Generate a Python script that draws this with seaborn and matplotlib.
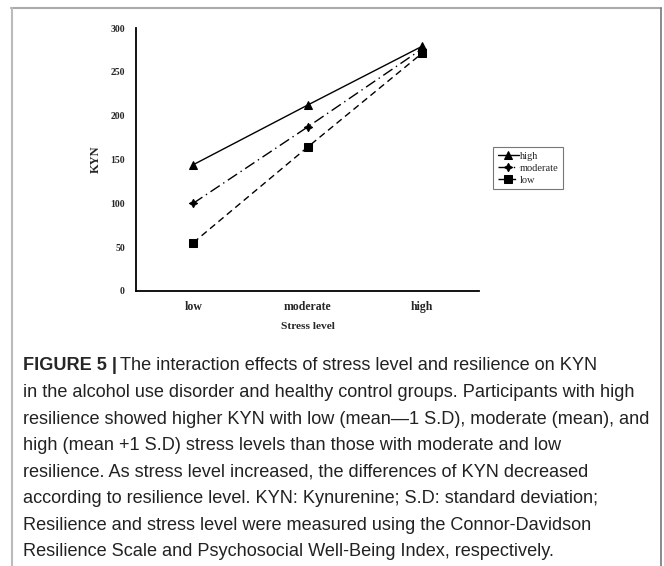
import pandas as pd
import numpy as np
import seaborn as sns
import matplotlib.pyplot as plt
from matplotlib.lines import Line2D

# values
stress_levels = ['low', 'moderate', 'high']
kyn_high = [144, 212, 279]
kyn_moderate = [100, 187, 276]
kyn_low = [55, 164, 271]
resilience = ['high', 'moderate', 'low']
y_ticks = [0, 50, 100, 150, 200, 250, 300]

caption_lines = [
    "The interaction effects of stress level and resilience on KYN",
    "in the alcohol use disorder and healthy control groups. Participants with high",
    "resilience showed higher KYN with low (mean\u20141 S.D), moderate (mean), and",
    "high (mean +1 S.D) stress levels than those with moderate and low",
    "resilience. As stress level increased, the differences of KYN decreased",
    "according to resilience level. KYN: Kynurenine; S.D: standard deviation;",
    "Resilience and stress level were measured using the Connor-Davidson",
    "Resilience Scale and Psychosocial Well-Being Index, respectively.",
]

df = pd.DataFrame({
    'Stress level': stress_levels * 3,
    'KYN': kyn_high + kyn_moderate + kyn_low,
    'resilience': np.repeat(resilience, 3),
})

sns.set_style('white')
serif = 'Liberation Serif'

fig = plt.figure(figsize=(6.64, 5.66), dpi=100, facecolor='w')
ax = fig.add_axes([136 / 664, 1 - 291 / 566, 343 / 664, 263 / 566])

ax = sns.lineplot(data=df, x='Stress level', y='KYN', hue='resilience', style='resilience',
                  hue_order=resilience, style_order=resilience,
                  palette={'high': 'black', 'moderate': 'black', 'low': 'black'},
                  markers={'high': '^', 'moderate': (4, 1, 0), 'low': 's'},
                  dashes={'high': '', 'moderate': (8, 3, 1, 3), 'low': (4.8, 3.1)},
                  markersize=6, markeredgecolor='black', linewidth=1.0, sort=False, ax=ax)

ax.set_xlim(-0.5, 2.5)
ax.set_ylim(0, 300)
ax.set_yticks(y_ticks)
sns.despine(ax=ax)
for s in ['left', 'bottom']:
    ax.spines[s].set_color('black')
    ax.spines[s].set_linewidth(1.3)
ax.tick_params(axis='both', length=0)
ax.tick_params(axis='y', pad=8)
ax.tick_params(axis='x', pad=7)
for t in ax.get_yticklabels():
    t.set_fontfamily(serif)
    t.set_fontweight('bold')
    t.set_fontsize(7)
for t in ax.get_xticklabels():
    t.set_fontfamily(serif)
    t.set_fontweight('bold')
    t.set_fontsize(8.5)
ax.set_xlabel('Stress level', fontfamily=serif, fontweight='bold', fontsize=8.2, labelpad=7)
ax.set_ylabel('KYN', fontfamily=serif, fontweight='bold', fontsize=9, labelpad=6)

sns.move_legend(ax, 'upper left', bbox_to_anchor=(493 / 664, 1 - 147 / 566), bbox_transform=fig.transFigure,
                title=None, frameon=True, fancybox=False, prop={'family': serif, 'size': 7.5},
                handlelength=2.0, handletextpad=0.1, labelspacing=0.25, borderpad=0.45,
                borderaxespad=0, edgecolor='#555555')
ax.get_legend().get_frame().set_linewidth(0.8)

# page frame lines
fig.add_artist(Line2D([11 / 664, 661 / 664], [1 - 8 / 566, 1 - 8 / 566], color='#aaaaaa', lw=1.5))
fig.add_artist(Line2D([12 / 664, 12 / 664], [0, 1 - 8 / 566], color='#bbbbbb', lw=1.5))
fig.add_artist(Line2D([661 / 664, 661 / 664], [0, 1 - 8 / 566], color='#777777', lw=1.2))

# caption
cap_font = 'Liberation Sans'
cap_size = 13.1
x0 = 23 / 664
y0 = 366
step = 26.5
renderer = fig.canvas.get_renderer()
for i, line in enumerate(caption_lines):
    yy = 1 - (y0 + i * step) / 566
    if i == 0:
        t = fig.text(x0, yy, 'FIGURE 5 |', fontfamily=cap_font, fontweight='bold', fontsize=cap_size,
                     va='center', ha='left')
        bb = t.get_window_extent(renderer)
        fig.text(bb.x1 / 664 + 0.004, yy, line, fontfamily=cap_font, fontsize=cap_size, va='center',
                 ha='left', color='#222222')
    else:
        fig.text(x0, yy, line, fontfamily=cap_font, fontsize=cap_size, va='center', ha='left',
                 color='#222222')

plt.savefig('out.png', dpi=100)
